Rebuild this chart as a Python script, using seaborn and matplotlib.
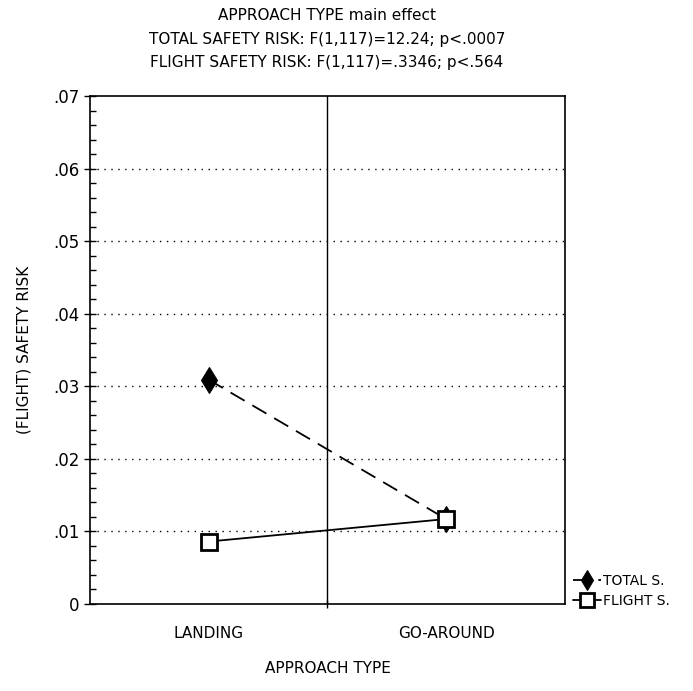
import matplotlib
matplotlib.use("Agg")
import matplotlib.pyplot as plt
from matplotlib.ticker import MultipleLocator, FixedLocator
import seaborn as sns
import pandas as pd

# Approach types and cell means
approach = ["LANDING", "GO-AROUND"]
total_s = [0.0309, 0.0117]
flight_s = [0.0086, 0.0117]
yticks = [0, 0.01, 0.02, 0.03, 0.04, 0.05, 0.06, 0.07]
ytick_labels = ["0", ".01", ".02", ".03", ".04", ".05", ".06", ".07"]

df_total = pd.DataFrame({"approach": approach, "risk": total_s})
df_flight = pd.DataFrame({"approach": approach, "risk": flight_s})

sns.set_theme(style="white")
plt.rcParams["font.family"] = ["DejaVu Sans"]
for key in ("text.color", "axes.labelcolor", "xtick.color", "ytick.color"):
    plt.rcParams[key] = "black"

fig = plt.figure(figsize=(6.93, 6.91), dpi=100)
ax = fig.add_axes([0.130, 0.126, 0.685, 0.735])

sns.lineplot(data=df_total, x="approach", y="risk", ax=ax, color="black",
             linestyle=(0, (9, 5)), linewidth=1.3, marker="d", markersize=13,
             markerfacecolor="black", markeredgecolor="black",
             label="TOTAL S.", sort=False)
sns.lineplot(data=df_flight, x="approach", y="risk", ax=ax, color="black",
             linestyle="-", linewidth=1.3, marker="s", markersize=12,
             markerfacecolor="white", markeredgecolor="black",
             markeredgewidth=2, label="FLIGHT S.", sort=False)

ax.set_xlim(-0.5, 1.5)
ax.set_ylim(0, 0.07)
ax.set_yticks(yticks)
ax.set_yticklabels(ytick_labels, fontsize=12)
ax.yaxis.set_minor_locator(MultipleLocator(0.002))
ax.tick_params(axis="y", which="major", direction="inout", length=8, width=1, left=True)
ax.tick_params(axis="y", which="minor", direction="in", length=4, width=1, left=True)
ax.set_xticks([0, 1])
ax.set_xticklabels(approach, fontsize=11)
ax.tick_params(axis="x", which="major", length=0, pad=16)
ax.xaxis.set_minor_locator(FixedLocator([0.5]))
ax.tick_params(axis="x", which="minor", direction="inout", length=6, width=1, bottom=True)

# dotted reference lines and the divider between the two approach types
for v in yticks[1:-1]:
    ax.axhline(v, color="black", linestyle=(0, (1, 4)), linewidth=1.0, zorder=0)
ax.axvline(0.5, color="black", linewidth=1.0, zorder=0)

for s in ax.spines.values():
    s.set_color("black")
    s.set_linewidth(1.2)

ax.set_xlabel("APPROACH TYPE", fontsize=11, labelpad=14)
ax.set_ylabel("(FLIGHT) SAFETY RISK", fontsize=11, labelpad=16)

fig.text(0.472, 0.978, "APPROACH TYPE main effect", ha="center", va="center", fontsize=11)
fig.text(0.472, 0.943, "TOTAL SAFETY RISK: F(1,117)=12.24; p<.0007", ha="center", va="center", fontsize=11)
fig.text(0.472, 0.909, "FLIGHT SAFETY RISK: F(1,117)=.3346; p<.564", ha="center", va="center", fontsize=11)

ax.legend(loc="lower left", bbox_to_anchor=(1.005, -0.019), frameon=False,
          handlelength=2.0, handletextpad=0.2, labelspacing=0.45, fontsize=10,
          borderaxespad=0.0, markerscale=0.8)

fig.savefig("out.png", dpi=100)
